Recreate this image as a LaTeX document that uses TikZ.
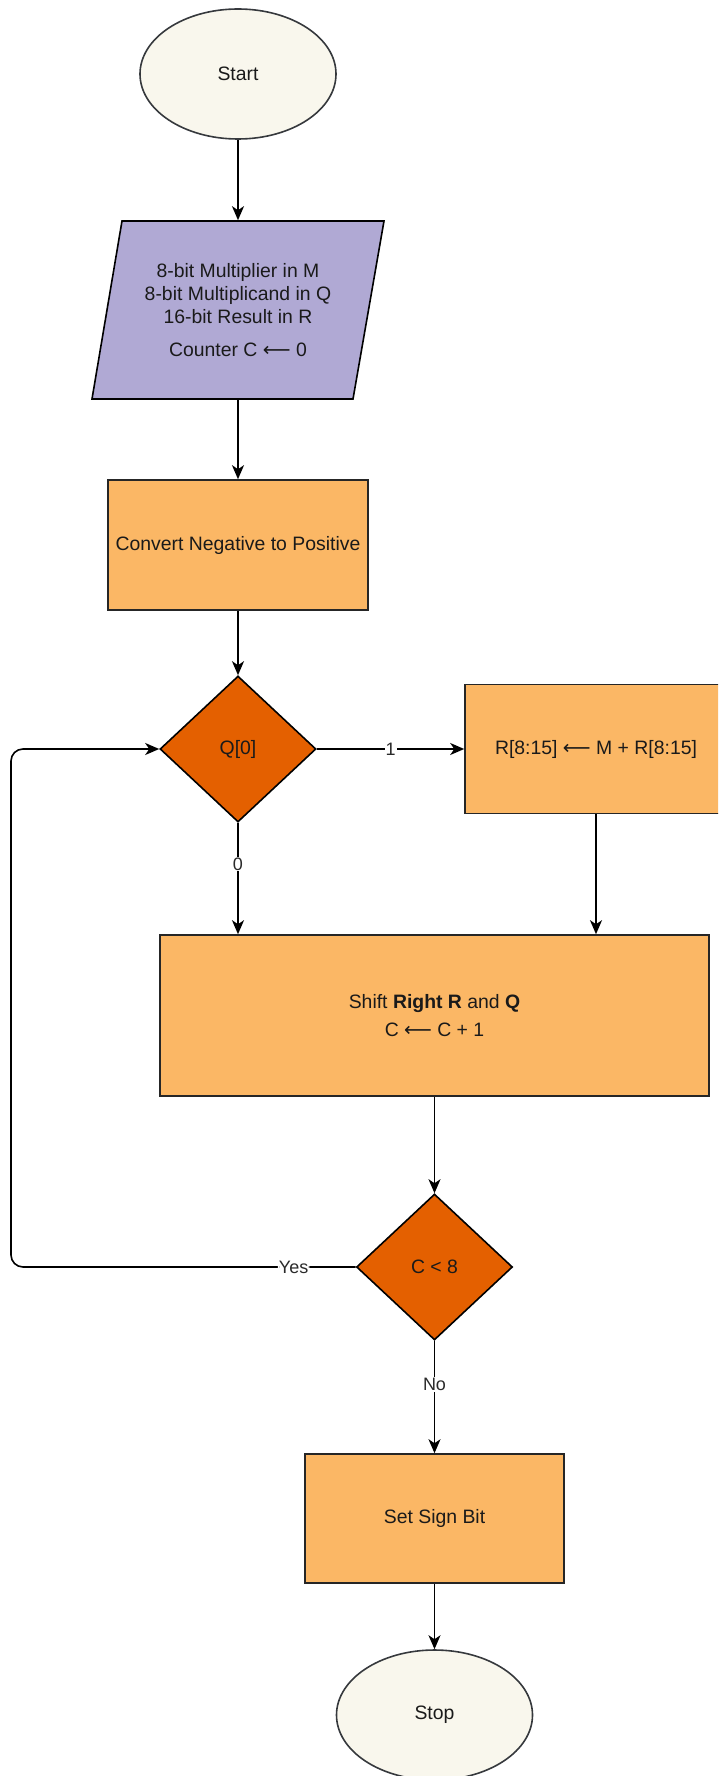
\documentclass[tikz,border=0pt]{standalone}
\usepackage{fontspec}
\setmainfont{Liberation Sans}
\newfontfamily\symf{DejaVu Sans}
\usetikzlibrary{shapes.geometric,arrows.meta}
\definecolor{termfill}{HTML}{F9F7ED}
\definecolor{termdraw}{HTML}{36393D}
\definecolor{iofill}{HTML}{B0A9D4}
\definecolor{procfill}{HTML}{FBB765}
\definecolor{decfill}{HTML}{E46000}
\definecolor{txt}{HTML}{1A1A1A}
\definecolor{lbltxt}{HTML}{2A2A2A}
\newcommand{\larr}{{\symf\char"27F5}}
\tikzset{
  base/.style={font=\fontsize{19.4}{23}\selectfont, text=txt, line width=1.6pt, inner sep=0pt},
  term/.style={base, ellipse, draw=termdraw, fill=termfill, minimum width=196pt, minimum height=130pt},
  proc/.style={base, rectangle, draw=black!85, fill=procfill},
  dec/.style={base, diamond, draw=black, fill=decfill, minimum width=156pt, minimum height=146pt},
  conn/.style={line width=1.6pt, draw=black, -{Stealth[length=14pt,width=12pt,inset=4pt]}},
  lbl/.style={font=\fontsize{18}{21}\selectfont, text=lbltxt, fill=white, inner sep=1pt},
}
\begin{document}
\begin{tikzpicture}[x=1pt,y=-1pt]
\clip (0,0) rectangle (718,1776);
\useasboundingbox (0,0) rectangle (718,1776);
% nodes
\node[term] (start) at (238,74) {Start};
\draw[line width=1.6pt, draw=black, fill=iofill] (122,221) -- (384,221) -- (353,399) -- (92,399) -- cycle;
\node[base, align=center, minimum height=178pt, minimum width=200pt] (inp) at (238,310)
  {8-bit Multiplier in M\\8-bit Multiplicand in Q\\16-bit Result in R\\[9.5pt]Counter C \larr{} 0};
\node[proc, minimum width=260pt, minimum height=130pt] (conv) at (238,545) {Convert Negative to Positive};
\node[dec] (q) at (238,749) {Q[0]};
\node[proc, minimum width=262pt, minimum height=129pt] (radd) at (596,749) {R[8:15] \larr{} M + R[8:15]};
\node[proc, minimum width=549pt, minimum height=161pt, align=center] (shift) at (434.5,1015.5)
  {Shift \textbf{Right R} and \textbf{Q}\\[5.5pt]C \larr{} C + 1};
\node[dec] (c8) at (434.5,1267) {C < 8};
\node[proc, minimum width=259pt, minimum height=129pt] (sign) at (434.5,1518.5) {Set Sign Bit};
\node[term] (stop) at (434.5,1715) {Stop};
\coordinate (lb) at (11,1267);
\coordinate (lt) at (11,749);
% connectors
\draw[conn] (start.south) -- (inp.north);
\draw[conn] (inp.south) -- (conv.north);
\draw[conn] (conv.south) -- (q.north);
\draw[conn] (q.east) -- node[lbl]{1} (radd.west);
\draw[conn] (q.south) -- node[lbl, pos=0.37]{0} (q.south |- shift.north);
\draw[conn] (radd.south) -- (radd.south |- shift.north);
\draw[conn] (shift.south) -- (c8.north);
\draw[conn, rounded corners=12pt] (c8.west) -- node[lbl, pos=0.18]{Yes} (lb) -- (lt) -- (q.west);
\draw[conn] (c8.south) -- node[lbl, pos=0.39]{No} (sign.north);
\draw[conn] (sign.south) -- (stop.north);
\end{tikzpicture}
\end{document}
